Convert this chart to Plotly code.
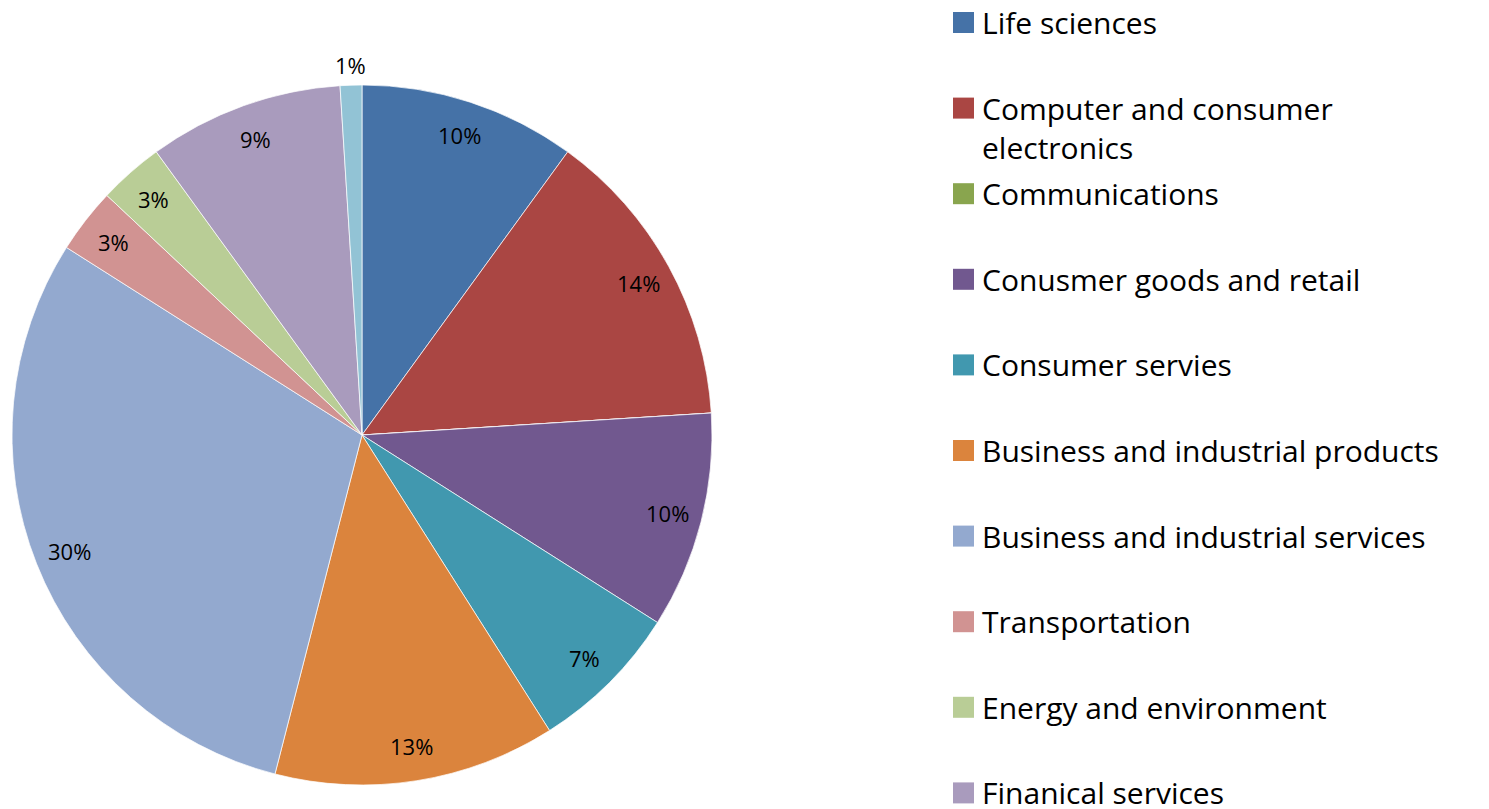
import math
import plotly.graph_objects as go

# ---- data ----
categories = [
    "Life sciences",
    "Computer and consumer electronics",
    "Communications",
    "Conusmer goods and retail",
    "Consumer servies",
    "Business and industrial products",
    "Business and industrial services",
    "Transportation",
    "Energy and environment",
    "Finanical services",
    "Other",
]
legend_text = [
    "Life sciences",
    "Computer and consumer<br>electronics",
    "Communications",
    "Conusmer goods and retail",
    "Consumer servies",
    "Business and industrial products",
    "Business and industrial services",
    "Transportation",
    "Energy and environment",
    "Finanical services",
    "Other",
]
shares = [10, 14, 0, 10, 7, 13, 30, 3, 3, 9, 1]
colors = ["#4572A7", "#AA4643", "#89A54E", "#71588F", "#4198AF", "#DB843D",
          "#93A9CF", "#D19392", "#B9CD96", "#A99BBD", "#92C3D5"]

W, H = 1489, 809
OFF = 8  # page body margin
cx, cy, R = 362 - OFF, 435 - OFF, 350  # pie centre / radius in figure px
FONT = "'Open Sans', 'Noto Sans', sans-serif"
LEG_FS = 30
PCT_FS = 22

fig = go.Figure()
fig.add_trace(go.Pie(
    labels=categories, values=shares, sort=False, direction="clockwise",
    rotation=0, textposition="none", showlegend=False, hoverinfo="label+percent",
    marker=dict(colors=colors, line=dict(color="rgba(255,255,255,0.7)", width=1)),
    domain=dict(x=[(cx - R) / W, (cx + R) / W], y=[1 - (cy + R) / H, 1 - (cy - R) / H]),
))

annotations = []
shapes = []

# percentage labels, placed from the slice mid-angles
total = sum(shares)
cum = 0
for v in shares:
    mid = (cum + v / 2) / total * 2 * math.pi
    cum += v
    if v == 0:
        continue
    rr = 0.9 * R if v / total >= 0.02 else 1.057 * R
    px = cx + rr * math.sin(mid)
    py = cy - rr * math.cos(mid)
    annotations.append(dict(
        x=px / W, y=1 - py / H, xref="paper", yref="paper", text=f"{v}%",
        showarrow=False, xanchor="center", yanchor="middle",
        font=dict(family=FONT, size=PCT_FS, color="black")))

# legend (Excel-style fixed slots)
slot0, slot_step, lh = 22.5 - OFF, 85.6, 1.3 * LEG_FS
for i, (t, c) in enumerate(zip(legend_text, colors)):
    yc = slot0 + i * slot_step
    nlines = t.count("<br>") + 1
    ymid = yc + (nlines - 1) * lh / 2
    shapes.append(dict(type="rect", xref="paper", yref="paper",
                       x0=(953 - OFF) / W, x1=(974 - OFF) / W,
                       y0=1 - (yc - 10.5) / H, y1=1 - (yc + 10.5) / H,
                       fillcolor=c, line=dict(width=0)))
    annotations.append(dict(
        x=(980 - OFF) / W, y=1 - ymid / H, xref="paper", yref="paper", text=t,
        showarrow=False, xanchor="left", yanchor="middle", align="left",
        font=dict(family=FONT, size=LEG_FS, color="black")))

fig.update_layout(
    width=W, height=H, margin=dict(l=0, r=0, t=0, b=0),
    paper_bgcolor="white", plot_bgcolor="white",
    annotations=annotations, shapes=shapes,
)
fig.write_html("out.html")
